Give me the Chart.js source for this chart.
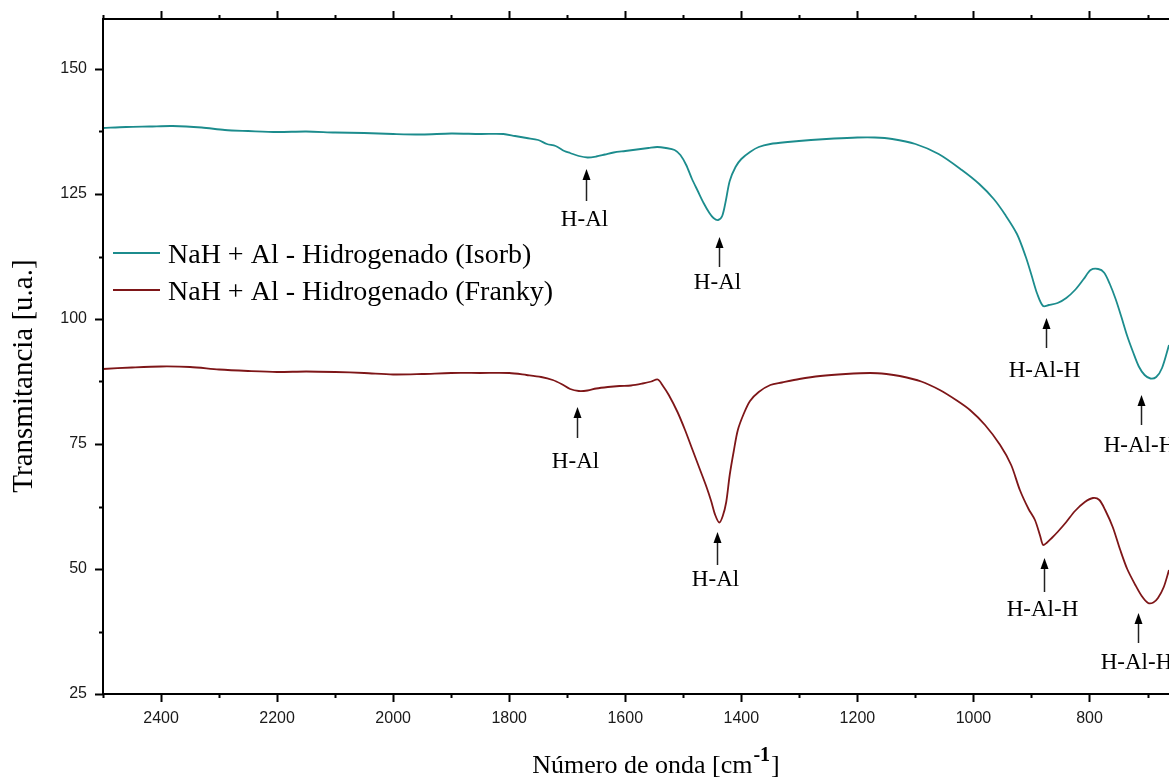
<!DOCTYPE html>
<html>
<head>
<meta charset="utf-8">
<script src="https://cdn.jsdelivr.net/npm/chart.js@4.4.1/dist/chart.umd.min.js"></script>
<style>
  body { margin: 0; background: #fff; }
  #wrap { width: 1169px; height: 779px; }
</style>
</head>
<body>
<div id="wrap"><canvas id="ftir"></canvas></div>
<script>
// FTIR spectra, wavenumber (cm-1) vs transmittance (a.u.)
const isorbWn = [2500, 2460, 2420, 2380, 2330, 2290, 2250, 2200, 2150, 2100, 2050, 2000, 1950, 1900, 1850, 1810,
  1790, 1770, 1750, 1735, 1720, 1705, 1695, 1680, 1665, 1650, 1635, 1620, 1600, 1580, 1560, 1545, 1530, 1515,
  1505, 1495, 1485, 1475, 1465, 1455, 1448, 1440, 1433, 1427, 1420, 1410, 1400, 1385, 1370, 1350, 1320, 1280,
  1240, 1200, 1170, 1140, 1100, 1060, 1020, 990, 965, 945, 925, 910, 900, 890, 880, 870, 855, 840, 825, 810,
  798, 785, 775, 765, 755, 745, 735, 725, 715, 705, 695, 685, 675, 663];
const isorbT = [138.2, 138.4, 138.5, 138.6, 138.3, 137.8, 137.6, 137.4, 137.5, 137.3, 137.2, 137.0, 136.9, 137.1, 137.0, 137.0,
  136.6, 136.2, 135.8, 135.0, 134.6, 133.6, 133.2, 132.6, 132.3, 132.5, 132.9, 133.3, 133.6, 133.9, 134.2, 134.4, 134.2, 133.8,
  132.8, 130.8, 128.0, 125.6, 123.2, 121.2, 120.2, 119.8, 120.6, 123.5, 127.6, 130.4, 132.0, 133.4, 134.4, 135.0, 135.4, 135.8,
  136.1, 136.3, 136.3, 136.0, 135.0, 133.0, 129.8, 127.0, 124.0, 120.8, 117.0, 112.5, 108.8, 105.0, 102.6, 102.8, 103.2, 104.2, 105.8, 108.0,
  109.8, 110.0, 109.3, 107.0, 104.0, 100.4, 96.6, 93.4, 90.5, 88.8, 88.1, 88.4, 90.2, 94.8];

const frankyWn = [2500, 2450, 2400, 2350, 2300, 2250, 2200, 2150, 2100, 2050, 2000, 1950, 1900, 1850, 1800, 1770,
  1745, 1725, 1710, 1695, 1680, 1665, 1650, 1630, 1610, 1590, 1570, 1555, 1544, 1535, 1525, 1510, 1497, 1484,
  1471, 1460, 1452, 1445, 1438, 1432, 1426, 1420, 1413, 1406, 1396, 1385, 1370, 1350, 1330, 1300, 1264, 1220,
  1178, 1150, 1127, 1090, 1058, 1030, 1006, 980, 954, 935, 920, 905, 894, 885, 880, 874, 865, 855, 840, 825,
  808, 794, 783, 773, 760, 747, 735, 721, 710, 699, 690, 682, 672, 663];
const frankyT = [90.0, 90.3, 90.5, 90.4, 89.9, 89.6, 89.4, 89.5, 89.4, 89.2, 88.9, 89.0, 89.2, 89.2, 89.2, 88.8,
  88.4, 87.8, 87.0, 86.0, 85.6, 85.7, 86.1, 86.4, 86.6, 86.7, 87.1, 87.5, 87.9, 86.6, 84.8, 81.4, 77.8, 73.8,
  69.8, 66.4, 63.6, 60.8, 59.3, 60.6, 63.4, 68.8, 73.6, 77.8, 81.0, 83.6, 85.4, 86.8, 87.3, 88.0, 88.6, 89.0,
  89.2, 89.0, 88.6, 87.5, 85.8, 83.8, 81.8, 78.8, 74.8, 70.8, 65.8, 62.0, 59.8, 56.6, 54.8, 55.2, 56.2, 57.4, 59.4, 61.6,
  63.4, 64.2, 63.8, 61.8, 58.4, 53.8, 50.0, 46.8, 44.6, 43.2, 43.3, 44.2, 46.4, 49.8];

const seriesNames = ['NaH + Al - Hidrogenado (Isorb)', 'NaH + Al - Hidrogenado (Franky)'];
const seriesColors = ['#1c8c8d', '#7e1618'];

// band assignments: wavenumber, arrow tip, arrow tail, label centre (transmittance units)
const bandLabels = ['H-Al', 'H-Al', 'H-Al-H', 'H-Al-H', 'H-Al', 'H-Al', 'H-Al-H', 'H-Al-H'];
const bandWn = [1668, 1438, 875, 711, 1683, 1442, 878, 716];
const bandTip = [130.0, 116.4, 100.2, 84.8, 82.4, 57.4, 52.2, 41.2];
const bandTail = [123.6, 110.4, 94.2, 78.8, 76.2, 50.8, 45.4, 35.2];
const bandText = [119.8, 107.2, 89.6, 74.6, 71.4, 47.8, 41.8, 31.2];

const xTicks = [2400, 2200, 2000, 1800, 1600, 1400, 1200, 1000, 800];
const yTicks = [25, 50, 75, 100, 125, 150];

function toPoints(xs, ys) {
  return xs.map((x, i) => ({ x: x, y: ys[i] }));
}

const frame = {
  id: 'frame',
  afterDraw(chart) {
    const ctx = chart.ctx;
    const a = chart.chartArea;
    const xs = chart.scales.x;
    const ys = chart.scales.y;
    ctx.save();
    ctx.strokeStyle = '#000';
    ctx.lineWidth = 2;
    ctx.beginPath();
    ctx.moveTo(a.right, a.top); ctx.lineTo(a.left, a.top);
    ctx.lineTo(a.left, a.bottom); ctx.lineTo(a.right, a.bottom);
    ctx.stroke();

    // major / minor ticks, bottom and top
    for (let v = 700; v <= 2500; v += 100) {
      const px = Math.round(xs.getPixelForValue(v)) + 0.5;
      const len = v % 200 === 0 ? 8 : 4;
      ctx.beginPath();
      ctx.moveTo(px, a.bottom); ctx.lineTo(px, a.bottom + len);
      ctx.moveTo(px, a.top); ctx.lineTo(px, a.top - len);
      ctx.stroke();
    }
    for (let v = 25; v <= 150; v += 12.5) {
      const py = Math.round(ys.getPixelForValue(v)) + 0.5;
      const len = v % 25 === 0 ? 8 : 4;
      ctx.beginPath();
      ctx.moveTo(a.left, py); ctx.lineTo(a.left - len, py);
      ctx.stroke();
    }

    // band arrows
    ctx.fillStyle = '#000';
    ctx.strokeStyle = '#222';
    ctx.lineWidth = 1.5;
    ctx.font = '23px "Liberation Serif"';
    ctx.textAlign = 'center';
    ctx.textBaseline = 'middle';
    bandWn.forEach((wn, i) => {
      const px = Math.round(xs.getPixelForValue(wn)) + 0.5;
      const tip = ys.getPixelForValue(bandTip[i]);
      const tail = ys.getPixelForValue(bandTail[i]);
      ctx.beginPath();
      ctx.moveTo(px, tail); ctx.lineTo(px, tip + 8);
      ctx.stroke();
      ctx.beginPath();
      ctx.moveTo(px, tip); ctx.lineTo(px - 4, tip + 11); ctx.lineTo(px + 4, tip + 11);
      ctx.closePath();
      ctx.fill();
      ctx.fillText(bandLabels[i], px - 2, ys.getPixelForValue(bandText[i]));
    });

    // legend
    ctx.textAlign = 'left';
    ctx.textBaseline = 'alphabetic';
    ctx.font = '28px "Liberation Serif"';
    seriesNames.forEach((name, i) => {
      const ly = 253 + i * 37;
      ctx.strokeStyle = seriesColors[i];
      ctx.lineWidth = 2;
      ctx.beginPath();
      ctx.moveTo(113, ly); ctx.lineTo(160, ly);
      ctx.stroke();
      ctx.fillStyle = '#000';
      ctx.fillText(name, 168, ly + 10);
    });

    // axis titles
    ctx.fillStyle = '#000';
    ctx.font = '29px "Liberation Serif"';
    ctx.save();
    ctx.translate(32, 376);
    ctx.rotate(-Math.PI / 2);
    ctx.textAlign = 'center';
    ctx.fillText('Transmitancia [u.a.]', 0, 0);
    ctx.restore();

    const main = 'Número de onda [cm';
    const sup = '-1';
    const end = ']';
    ctx.font = '26px "Liberation Serif"';
    const wMain = ctx.measureText(main).width;
    const wEnd = ctx.measureText(end).width;
    ctx.font = 'bold 20px "Liberation Serif"';
    const wSup = ctx.measureText(sup).width;
    let tx = 655 - (wMain + wSup + wEnd) / 2;
    const base = 773;
    ctx.textAlign = 'left';
    ctx.font = '26px "Liberation Serif"';
    ctx.fillText(main, tx, base);
    tx += wMain;
    ctx.font = 'bold 20px "Liberation Serif"';
    ctx.fillText(sup, tx + 1, base - 12);
    tx += wSup + 2;
    ctx.font = '26px "Liberation Serif"';
    ctx.fillText(end, tx, base);
    ctx.restore();
  }
};

new Chart(document.getElementById('ftir'), {
  type: 'line',
  data: {
    datasets: [
      { label: seriesNames[0], data: toPoints(isorbWn, isorbT), borderColor: seriesColors[0], borderWidth: 1.8, pointRadius: 0, tension: 0.3 },
      { label: seriesNames[1], data: toPoints(frankyWn, frankyT), borderColor: seriesColors[1], borderWidth: 1.8, pointRadius: 0, tension: 0.3 }
    ]
  },
  options: {
    responsive: true,
    maintainAspectRatio: false,
    animation: false,
    devicePixelRatio: 1,
    layout: { padding: { top: 19, right: 0, left: 0, bottom: 0 } },
    plugins: { legend: { display: false }, tooltip: { enabled: false } },
    scales: {
      x: {
        type: 'linear',
        reverse: true,
        min: 663,
        max: 2500,
        afterFit(scale) {
          scale.height = 85;
          scale.paddingLeft = 0;
          scale.paddingRight = 0;
        },
        afterBuildTicks(scale) { scale.ticks = xTicks.map(v => ({ value: v })); },
        grid: { display: false, drawTicks: false },
        border: { display: false },
        ticks: { color: '#1a1a1a', font: { family: 'Liberation Sans', size: 16 }, padding: 15, maxRotation: 0, autoSkip: false,
          callback: v => String(v) }
      },
      y: {
        min: 25,
        max: 160,
        afterFit(scale) {
          scale.width = 103;
          scale.paddingTop = 0;
          scale.paddingBottom = 0;
        },
        afterBuildTicks(scale) { scale.ticks = yTicks.map(v => ({ value: v })); },
        grid: { display: false, drawTicks: false },
        border: { display: false },
        ticks: { color: '#1a1a1a', font: { family: 'Liberation Sans', size: 16 }, padding: 16, callback: v => String(v) }
      }
    }
  },
  plugins: [frame]
});
</script>
</body>
</html>
